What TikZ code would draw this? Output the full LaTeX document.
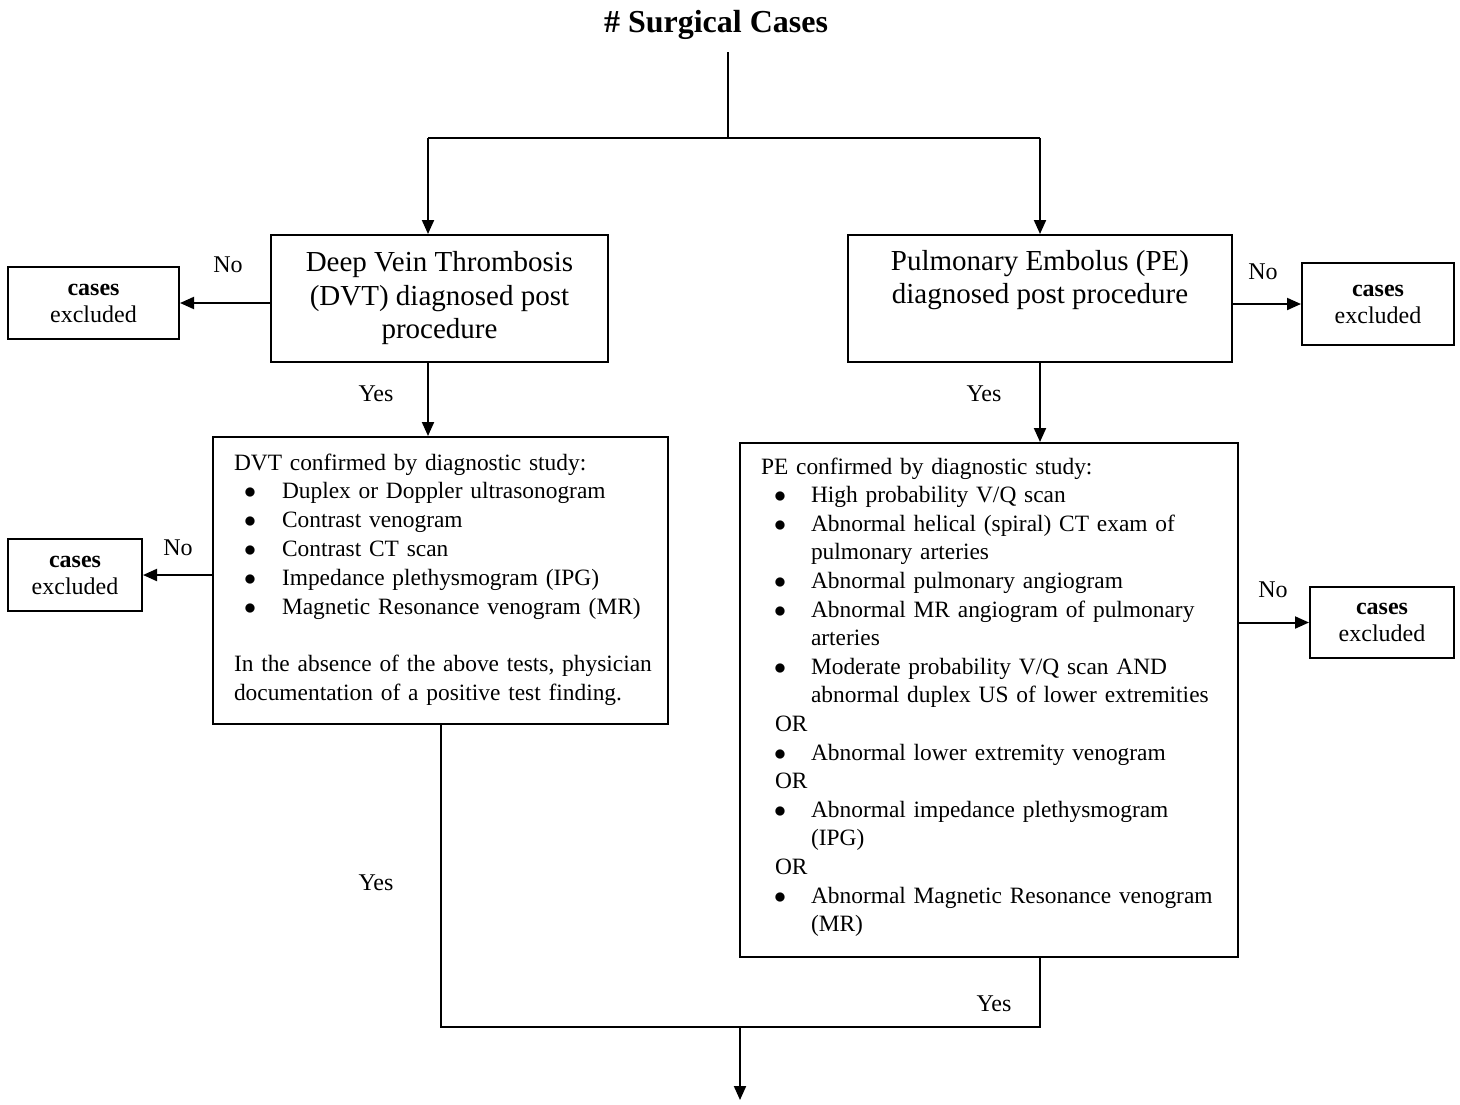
\documentclass[tikz,border=0pt]{standalone}
\usepackage{fontspec}
\setmainfont{Liberation Serif}
\usetikzlibrary{arrows.meta}
% bullet helpers for the two study lists
\newcommand\dbul{\hspace*{5pt}\makebox[19pt][l]{$\bullet$}}
\newcommand\dind{\hspace*{24pt}}
\newcommand\pbul{\hspace*{6.5pt}\makebox[18.5pt][l]{$\bullet$}}
\newcommand\pind{\hspace*{25pt}}
\newcommand\por{\hspace*{7pt}OR}
\begin{document}
\begin{tikzpicture}[x=0.5pt,y=-0.5pt,
  line width=1pt,
  box/.style={draw,rectangle,inner sep=0pt},
  bigbox/.style={box,align=center,font=\fontsize{14.5}{16.75}\selectfont},
  exbox/.style={box,align=center,font=\fontsize{12}{13.5}\selectfont},
  listtext/.style={inner sep=0pt,anchor=base west,align=left,font=\fontsize{11.7}{14.4}\selectfont},
  lbl/.style={font=\fontsize{12}{14}\selectfont,inner sep=0pt},
  arr/.style={-{Triangle[length=7pt,width=6pt]}}]
\useasboundingbox (0,0) rectangle (1460,1104);

% title
\node[font=\fontsize{16}{19}\selectfont\bfseries] (title) at (716,25) {\# Surgical Cases};

% first level
\node[bigbox,minimum width=168.5pt,minimum height=63.5pt] (dvt) at (439.5,298.5)
  {Deep Vein Thrombosis\\(DVT) diagnosed post\\procedure};
\node[bigbox,minimum width=192pt,minimum height=63.5pt] (pe) at (1040,298.5)
  {Pulmonary Embolus (PE)\\diagnosed post procedure\\\strut};

% exclusion boxes
\node[exbox,minimum width=85.5pt,minimum height=36pt] (ex1) at (93.5,303) {\textbf{cases}\\excluded};
\node[exbox,minimum width=76pt,minimum height=41pt] (ex2) at (1378,304) {\textbf{cases}\\excluded};
\node[exbox,minimum width=67pt,minimum height=36pt] (ex3) at (75,575) {\textbf{cases}\\excluded};
\node[exbox,minimum width=72pt,minimum height=35.5pt] (ex4) at (1382,622.5) {\textbf{cases}\\excluded};

% confirmation boxes
\node[box,minimum width=227.5pt,minimum height=143.5pt] (dvtc) at (440.5,580.5) {};
\node[box,minimum width=249pt,minimum height=257pt] (pec) at (989,700) {};

\node[listtext,text width=225pt] (dvtlist) at (233,470) {%
DVT confirmed by diagnostic study:\\
\dbul Duplex or Doppler ultrasonogram\\
\dbul Contrast venogram\\
\dbul Contrast CT scan\\
\dbul Impedance plethysmogram (IPG)\\
\dbul Magnetic Resonance venogram (MR)\\
\mbox{}\\
In the absence of the above tests, physician\\
documentation of a positive test finding.};

\node[listtext,text width=235pt,font=\fontsize{11.7}{14.3}\selectfont] (pelist) at (760,474) {%
PE confirmed by diagnostic study:\\
\pbul High probability V/Q scan\\
\pbul Abnormal helical (spiral) CT exam of\\
\pind pulmonary arteries\\
\pbul Abnormal pulmonary angiogram\\
\pbul Abnormal MR angiogram of pulmonary\\
\pind arteries\\
\pbul Moderate probability V/Q scan AND\\
\pind abnormal duplex US of lower extremities\\
\por\\
\pbul Abnormal lower extremity venogram\\
\por\\
\pbul Abnormal impedance plethysmogram\\
\pind (IPG)\\
\por\\
\pbul Abnormal Magnetic Resonance venogram\\
\pind (MR)};

% junction points
\coordinate (top) at (728,52);
\coordinate (split) at (728,138);
\coordinate (jl) at (428,138);
\coordinate (jr) at (1040,138);
\coordinate (merge) at (740,1027);
\coordinate (out) at (740,1100);

% connectors
\draw (top) -- (split);
\draw (jl) -- (jr);
\draw[arr] (jl) -- (jl |- dvt.north);
\draw[arr] (jr) -- (pe.north);
\draw[arr] (dvt.west |- ex1.east) -- (ex1.east);
\draw[arr] (pe.east |- ex2.west) -- (ex2.west);
\draw[arr] (jl |- dvt.south) -- (jl |- dvtc.north);
\draw[arr] (pe.south) -- (pe.south |- pec.north);
\draw[arr] (dvtc.west |- ex3.east) -- (ex3.east);
\draw[arr] (pec.east |- ex4.west) -- (ex4.west);
\draw (dvtc.south) -- (dvtc.south |- merge) -- (pe.south |- merge) -- (pe.south |- pec.south);
\draw[arr] (merge) -- (out);

% branch labels
\node[lbl] (no1) at (228,265) {No};
\node[lbl] (no2) at (1263,272) {No};
\node[lbl] (yes1) at (376,394) {Yes};
\node[lbl] (yes2) at (984,394) {Yes};
\node[lbl] (no3) at (178,548) {No};
\node[lbl] (no4) at (1273,590) {No};
\node[lbl] (yes3) at (376,883) {Yes};
\node[lbl] (yes4) at (994,1004) {Yes};
\end{tikzpicture}
\end{document}
